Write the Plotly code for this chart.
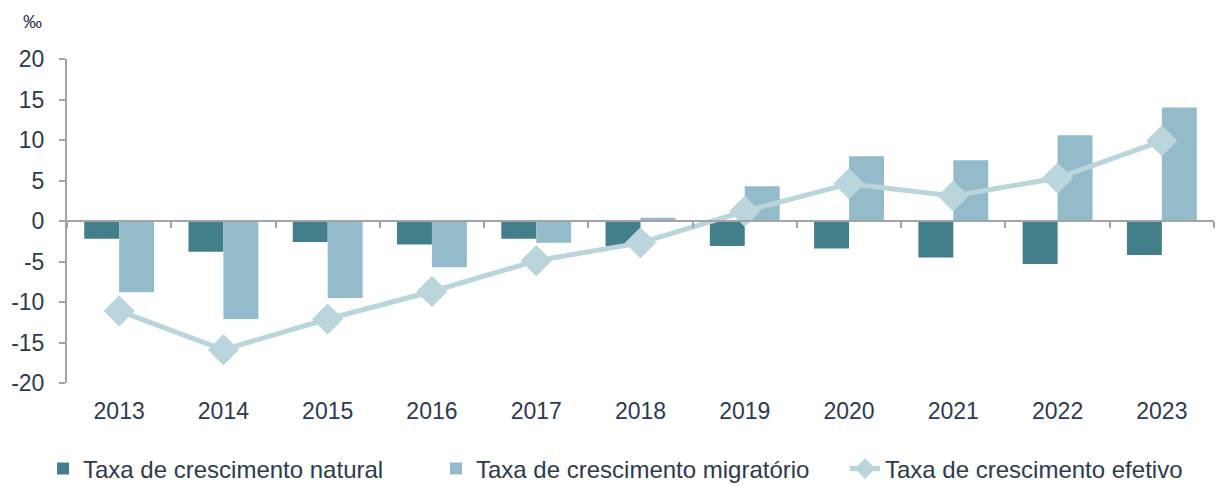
import plotly.graph_objects as go

years = ["2013", "2014", "2015", "2016", "2017", "2018", "2019", "2020", "2021", "2022", "2023"]
natural = [-2.2, -3.8, -2.6, -2.9, -2.2, -3.1, -3.1, -3.4, -4.5, -5.3, -4.2]
migratorio = [-8.8, -12.1, -9.5, -5.7, -2.7, 0.4, 4.3, 8.0, 7.5, 10.6, 14.0]
efetivo = [-11.1, -15.9, -12.1, -8.7, -4.9, -2.7, 1.2, 4.6, 3.1, 5.3, 9.9]
y_ticks = [-20, -15, -10, -5, 0, 5, 10, 15, 20]
y_tick_text = ["-20", "-15", "-10", "-5", "0", "5", "10", "15", "20"]

txt = "#2E3A4E"
axc = "#A3A3AA"
font = "Liberation Sans, Arial, sans-serif"
fs = 23

fig = go.Figure()
fig.add_trace(go.Bar(x=years, y=natural, name="Taxa de crescimento natural",
                     marker=dict(color="#437E8B", line=dict(width=0)),
                     xaxis="x", yaxis="y", legend="legend"))
fig.add_trace(go.Bar(x=years, y=migratorio, name="Taxa de crescimento migratório",
                     marker=dict(color="#93BBC9", line=dict(width=0)),
                     xaxis="x", yaxis="y", legend="legend2"))
fig.add_trace(go.Scatter(x=years, y=efetivo, name="Taxa de crescimento efetivo",
                         mode="lines+markers", line=dict(color="#BAD5DC", width=5),
                         marker=dict(symbol="diamond", size=24, color="#BAD5DC"),
                         xaxis="x2", yaxis="y", legend="legend3"))


def leg(xpx):
    return dict(orientation="h", x=xpx / 1222, xanchor="left", xref="container",
                y=0.035, yanchor="middle", yref="container",
                font=dict(size=24, color=txt), itemwidth=30,
                bgcolor="rgba(0,0,0,0)")


fig.update_layout(
    width=1222, height=486,
    margin=dict(l=67, r=8, t=59, b=103, autoexpand=False),
    paper_bgcolor="white", plot_bgcolor="white",
    barmode="group", bargap=0.33, bargroupgap=0,
    font=dict(family=font, size=fs, color=txt),
    showlegend=True,
    legend=leg(43), legend2=leg(436), legend3=leg(845),
    xaxis=dict(type="category", categoryorder="array", categoryarray=years,
               range=[-0.5, 10.5], showline=False, ticks="", showgrid=False,
               zeroline=False, automargin=False,
               tickfont=dict(size=fs, color=txt), ticklabelstandoff=12),
    xaxis2=dict(type="category", categoryorder="array", categoryarray=years,
                range=[-0.5, 10.5], overlaying="x", anchor="free", position=0.5,
                showline=True, linecolor=axc, linewidth=2, ticks="outside",
                tickson="boundaries", ticklen=6, tickcolor=axc, tickwidth=2,
                showticklabels=False, showgrid=False, zeroline=False, automargin=False),
    yaxis=dict(range=[-20, 20], tickvals=y_ticks, ticktext=y_tick_text,
               showgrid=False, zeroline=False,
               showline=True, linecolor=axc, linewidth=2, ticks="outside",
               ticklen=6, tickcolor=axc, tickwidth=2, automargin=False,
               tickfont=dict(size=fs, color=txt), ticklabelstandoff=10),
    annotations=[dict(text="‰", xref="paper", yref="paper", x=-0.03, y=1.0,
                      yshift=38, xanchor="center", yanchor="middle", showarrow=False,
                      font=dict(size=19, color=txt))],
)

fig.write_html("out.html", config={"displayModeBar": False},
               post_script="document.body.style.margin='0';document.body.style.overflow='hidden';")
